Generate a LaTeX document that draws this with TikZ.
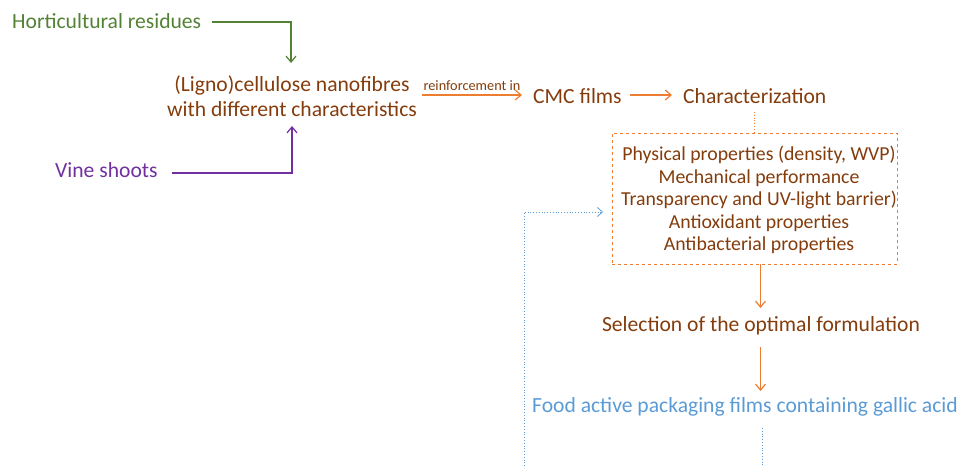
\documentclass[tikz,border=0pt]{standalone}
\usepackage{fontspec}
\setmainfont{Carlito}
\usetikzlibrary{arrows.meta}
\definecolor{brn}{RGB}{132,60,12}
\definecolor{org}{RGB}{237,125,49}
\definecolor{grn}{RGB}{84,130,53}
\definecolor{prp}{RGB}{112,48,160}
\definecolor{blu}{RGB}{91,155,213}
\begin{document}
\begin{tikzpicture}[x=1pt,y=-1pt,
  txt/.style={inner sep=0pt,font=\fontsize{21.6}{25}\selectfont},
  boxtxt/.style={font=\fontsize{19.8}{22.5}\selectfont,align=center,text=brn},
  arr/.style={-{Straight Barb[length=6pt,width=10pt]},line width=1.2pt},
  dotb/.style={blu,dotted,line width=0.8pt}]
\useasboundingbox (0,0) rectangle (960,466);
\node[txt,text=grn,anchor=west] (hr) at (12,21) {Horticultural residues};
\node[txt,text=prp,anchor=west] (vs) at (55,170) {Vine shoots};
\node[txt,text=brn,align=center] (lc) at (292,96) {(Ligno)cellulose nanofibres\\with different characteristics};
\node[txt,text=brn,anchor=west] (cmc) at (533,96) {CMC films};
\node[txt,text=brn,anchor=west] (ch) at (683,96) {Characterization};
\node[draw=org,dashed,line width=0.9pt,minimum width=285pt,minimum height=131pt,inner sep=0pt] (box) at (754.5,198.5) {};
\node[boxtxt] (bt) at (759,200) {Physical properties (density, WVP)\\Mechanical performance\\Transparency and UV-light barrier)\\Antioxidant properties\\Antibacterial properties};
\node[txt,text=brn] (sel) at (761,326) {Selection of the optimal formulation};
\node[txt,text=blu] (food) at (745,407) {Food active packaging films containing gallic acid};
\coordinate (hrc) at (212,22);
\coordinate (vsc) at (172,173);
\coordinate (bl) at (524,466);
\coordinate (br) at (762,466);
\coordinate (fin) at (603,212);
\coordinate (ctop) at (754,112);
\coordinate (btop) at (754,133);
\coordinate (bbot) at (760.5,264);
\draw[arr,grn] (hrc) -- (291,22) -- (291,63);
\draw[arr,prp] (vsc) -- (292,173) -- (292,126);
\draw[arr,org] (422,95) -- node[above=3pt,inner sep=1pt,text=brn,font=\fontsize{14.3}{16}\selectfont]{reinforcement in} (522,95);
\draw[arr,org] (630,95) -- (672,95);
\draw[org,dotted,line width=0.8pt] (ctop) -- (btop);
\draw[arr,org] (bbot) -- (760.5,308);
\draw[arr,org] (760.5,347) -- (760.5,391);
\draw[dotb] (762,428) -- (br);
\draw[dotb,-{Straight Barb[length=5pt,width=9pt]}] (bl) -- (524,212) -- (fin);
\end{tikzpicture}
\end{document}
